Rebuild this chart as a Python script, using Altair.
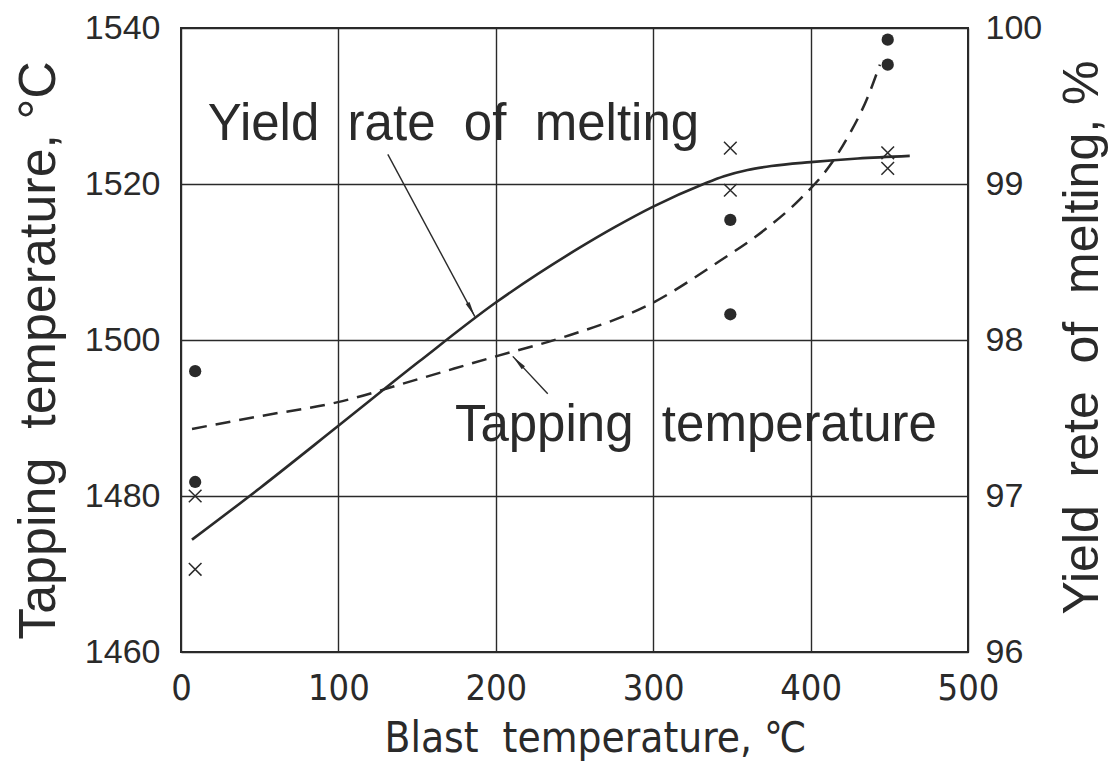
import altair as alt
import pandas as pd

# Tapping temperature curve (left axis, deg C)
tap_x = [7, 52, 99, 151, 200, 242, 300, 342, 370, 393, 412, 425, 436, 444]
tap_t = [1488.6, 1490.3, 1492.0, 1495.0, 1497.9, 1500.3, 1504.8, 1510.1,
         1514.0, 1518.0, 1522.3, 1526.5, 1531.0, 1535.3]

# Yield rate of melting curve (right axis, %)
yld_x = [7, 50, 100, 151, 200, 253, 275, 300, 332, 345, 360, 375, 400, 430, 463]
yld_v = [96.72, 97.05, 97.45, 97.86, 98.24, 98.59, 98.72, 98.855, 99.0,
         99.05, 99.09, 99.115, 99.14, 99.163, 99.18]

# Measured points
dot_x = [9, 9, 349, 349, 449, 449]
dot_t = [1496.0, 1481.8, 1515.4, 1503.3, 1538.5, 1535.3]
cross_x = [9, 9, 349, 349, 449, 449]
cross_v = [97.0, 96.53, 99.23, 98.96, 99.20, 99.10]

# Annotations (data coordinates on the left axis)
ann_text = ["Yield\u00a0 rate\u00a0 of\u00a0 melting", "Tapping\u00a0 temperature"]
ann_x = [17, 174]
ann_t = [1525.7, 1487.1]
arr_x1 = [131.4, 233.0]
arr_t1 = [1523.8, 1493.1]
arr_x2 = [186.7, 210.8]
arr_t2 = [1503.0, 1497.9]
arr_angle = [152, 317]

x_ticks = [0, 100, 200, 300, 400, 500]
t_ticks = [1460, 1480, 1500, 1520, 1540]
v_ticks = [96, 97, 98, 99, 100]

INK = "#2a2a2a"
FONT = "Liberation Sans"
NARROW = "DejaVu Sans Condensed, Liberation Sans"

tap_df = pd.DataFrame({"x": tap_x, "t": tap_t})
yld_df = pd.DataFrame({"x": yld_x, "v": yld_v})
dot_df = pd.DataFrame({"x": dot_x, "t": dot_t})
cross_df = pd.DataFrame({"x": cross_x, "v": cross_v})
ann_df = pd.DataFrame({"x": ann_x, "t": ann_t, "label": ann_text})
arr_df = pd.DataFrame({"x": arr_x1, "t": arr_t1, "x2": arr_x2, "t2": arr_t2,
                       "angle": arr_angle})

x_scale = alt.Scale(domain=[0, 500], nice=False, zero=False)
x_enc = alt.X(
    "x:Q",
    scale=x_scale,
    axis=alt.Axis(
        values=x_ticks, grid=True, gridColor=INK, gridWidth=1.4,
        ticks=False, domain=False, labelFlush=False, labelOverlap=False,
        labelFont=NARROW, labelFontSize=36, labelPadding=19, labelColor=INK,
        title="Blast\u00a0 temperature, \u2103", titleFont=NARROW,
        titleFontSize=42, titleFontWeight="normal", titleColor=INK,
        titleX=414, titleY=86, titleBaseline="middle", titleAlign="center",
    ),
)

t_scale = alt.Scale(domain=[1460, 1540], nice=False, zero=False)
t_enc = alt.Y(
    "t:Q",
    scale=t_scale,
    axis=alt.Axis(
        orient="left", values=t_ticks, format="d", grid=True, gridColor=INK,
        gridWidth=1.4, ticks=False, domain=False, labelOverlap=False,
        labelFlush=False, labelFont=FONT, labelFontSize=34, labelPadding=21,
        labelColor=INK,
        title="Tapping\u00a0 temperature, \u00b0C", titleFont=FONT,
        titleFontSize=52, titleFontWeight="normal", titleColor=INK,
        titleAngle=270, titleX=-143, titleY=322, titleBaseline="middle",
        titleAlign="center",
    ),
)

v_enc = alt.Y(
    "v:Q",
    scale=alt.Scale(domain=[96, 100], nice=False, zero=False),
    axis=alt.Axis(
        orient="right", values=v_ticks, format="d", grid=False,
        ticks=False, domain=False, labelOverlap=False, labelFlush=False,
        labelFont=FONT, labelFontSize=34, labelPadding=17, labelColor=INK,
        title="Yield\u00a0 rete\u00a0 of\u00a0 melting, %", titleFont=FONT,
        titleFontSize=50, titleFontWeight="normal", titleColor=INK,
        titleAngle=270, titleX=114, titleY=309, titleBaseline="middle",
        titleAlign="center",
    ),
)

tap_line = alt.Chart(tap_df).mark_line(
    color=INK, strokeWidth=2.5, strokeDash=[15, 9], interpolate="monotone"
).encode(x=x_enc, y=t_enc)

dots = alt.Chart(dot_df).mark_point(
    shape="circle", filled=True, size=150, color=INK, opacity=1
).encode(x=x_enc, y=t_enc)

ann = alt.Chart(ann_df).mark_text(
    font=FONT, fontSize=51, color=INK, align="left", baseline="alphabetic"
).encode(x=x_enc, y=t_enc, text="label:N")

arrows = alt.Chart(arr_df).mark_rule(color=INK, strokeWidth=1.4).encode(
    x=x_enc, y=t_enc, x2="x2:Q", y2="t2:Q"
)

heads = alt.Chart(arr_df).mark_point(
    shape="M0,0 L0.28,2 L-0.28,2 Z", filled=True, size=240, color=INK, opacity=1
).encode(
    x=alt.X("x2:Q", scale=x_scale),
    y=alt.Y("t2:Q", scale=t_scale),
    angle=alt.Angle("angle:Q", scale=None),
)

left = alt.layer(tap_line, dots, ann, arrows, heads)

yld_line = alt.Chart(yld_df).mark_line(
    color=INK, strokeWidth=2.6, interpolate="monotone"
).encode(x=x_enc, y=v_enc)

crosses = alt.Chart(cross_df).mark_point(
    shape="M-1,-1L1,1M-1,1L1,-1", filled=False, size=160, color=INK,
    strokeWidth=1.5, opacity=1
).encode(x=x_enc, y=v_enc)

right = alt.layer(yld_line, crosses)

chart = (
    alt.layer(left, right)
    .resolve_scale(y="independent")
    .properties(
        width=787, height=624,
        padding={"left": 173, "top": 20, "right": 143, "bottom": 111},
        autosize=alt.AutoSizeParams(type="none"),
        background="white",
    )
    .configure_view(stroke=INK, strokeWidth=2)
)

chart.save("out.html", embed_options={"renderer": "svg", "actions": False})
